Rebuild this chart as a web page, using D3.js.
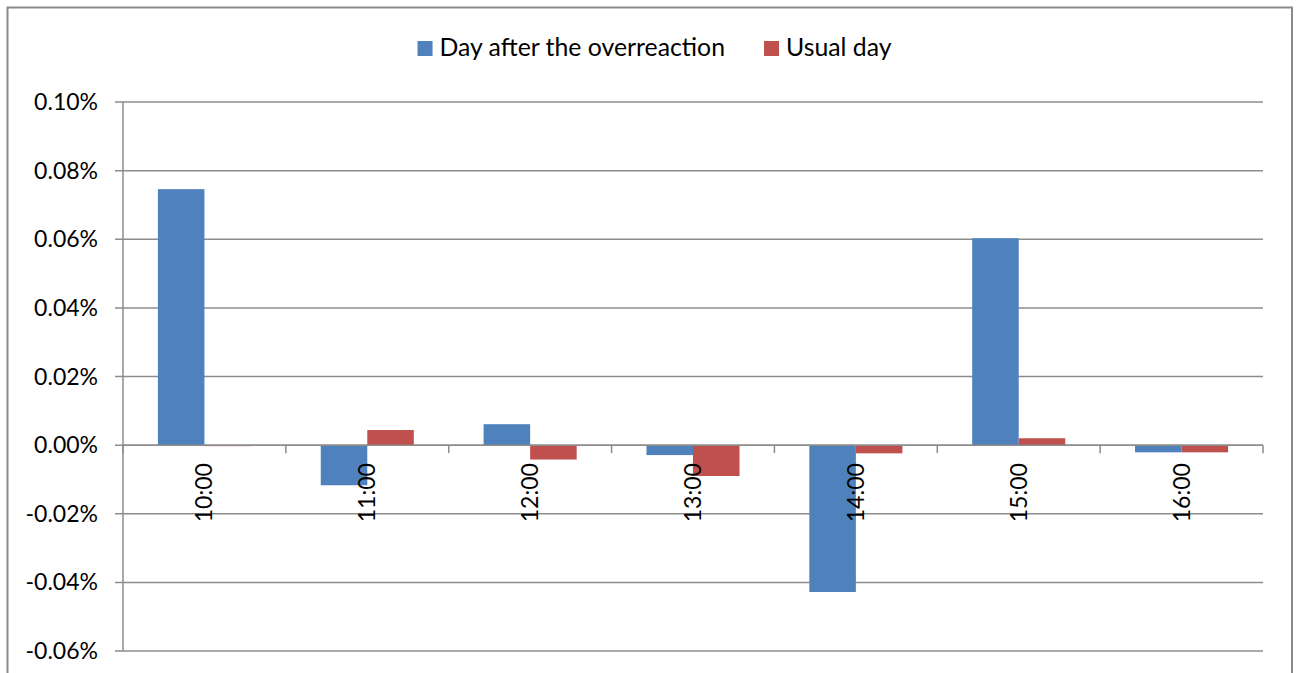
<!DOCTYPE html>
<html>
<head>
<meta charset="utf-8">
<script src="https://cdn.jsdelivr.net/npm/d3@7"></script>
<style>
  html, body { margin: 0; padding: 0; background: #fff; }
  svg { display: block; }
  text { font-family: Lato, "Open Sans", sans-serif; fill: #000; }
</style>
</head>
<body>
<svg id="chart" width="1298" height="673"></svg>
<script>
const categories = ["10:00", "11:00", "12:00", "13:00", "14:00", "15:00", "16:00"];
const seriesNames = ["Day after the overreaction", "Usual day"];
const dayAfter = [0.0746, -0.0117, 0.0061, -0.0029, -0.0428, 0.0603, -0.0021];
const usualDay = [-0.0003, 0.0044, -0.0042, -0.0090, -0.0024, 0.0020, -0.0021];
const yTicks = [-0.06, -0.04, -0.02, 0.00, 0.02, 0.04, 0.06, 0.08, 0.10];
const colors = ["#4F81BD", "#C0504D"];

const series = [dayAfter, usualDay];
const svg = d3.select("#chart");
const plot = { left: 123, right: 1263, top: 102, bottom: 651 };

// outer frame
svg.append("rect")
  .attr("x", 7.5).attr("y", 7.5)
  .attr("width", 1292 - 7.5).attr("height", 700)
  .attr("fill", "none").attr("stroke", "#8a8a8a").attr("stroke-width", 2);

const y = d3.scaleLinear().domain([-0.06, 0.10]).range([plot.bottom, plot.top]);
const x0 = d3.scaleBand().domain(categories).range([plot.left, plot.right]).padding(0);
const bw = x0.bandwidth();
const gap = bw * 1.5 / 3.5;
const x1 = d3.scaleBand().domain(d3.range(series.length)).range([gap / 2, bw - gap / 2]).padding(0);

// gridlines
svg.append("g").selectAll("line").data(yTicks).join("line")
  .attr("x1", plot.left - 8).attr("x2", plot.right)
  .attr("y1", d => y(d)).attr("y2", d => y(d))
  .attr("stroke", "#8c8c8c").attr("stroke-width", 1.5);

// y axis line
svg.append("line")
  .attr("x1", plot.left).attr("x2", plot.left)
  .attr("y1", plot.top).attr("y2", plot.bottom)
  .attr("stroke", "#8c8c8c").attr("stroke-width", 1.5);

// y labels
svg.append("g").selectAll("text").data(yTicks).join("text")
  .attr("x", 98).attr("y", d => y(d)).attr("dy", "0.35em")
  .attr("text-anchor", "end").attr("font-size", 23)
  .text(d => d3.format(".2f")(d).replace("\u2212", "-") + "%");

// bars
const data = [];
categories.forEach((c, i) => series.forEach((s, j) => data.push({ c, j, v: s[i] })));
svg.append("g").selectAll("rect").data(data).join("rect")
  .attr("x", d => x0(d.c) + x1(d.j))
  .attr("width", x1.bandwidth())
  .attr("y", d => Math.min(y(0), y(d.v)))
  .attr("height", d => Math.abs(y(d.v) - y(0)))
  .attr("fill", d => colors[d.j]);

// zero axis line + ticks
const zeroY = y(0);
svg.append("line")
  .attr("x1", plot.left).attr("x2", plot.right)
  .attr("y1", zeroY).attr("y2", zeroY)
  .attr("stroke", "#8c8c8c").attr("stroke-width", 1.5);
const bounds = categories.map(c => x0(c)).concat([plot.right]);
svg.append("g").selectAll("line").data(bounds).join("line")
  .attr("x1", d => d).attr("x2", d => d)
  .attr("y1", zeroY).attr("y2", zeroY + 8)
  .attr("stroke", "#8c8c8c").attr("stroke-width", 1.5);

// category labels (rotated)
svg.append("g").selectAll("text").data(categories).join("text")
  .attr("transform", c => `translate(${x0(c) + bw / 2},${zeroY + 18}) rotate(-90)`)
  .attr("dy", "0.35em").attr("text-anchor", "end").attr("font-size", 23)
  .text(c => c);

// legend
const lg = svg.append("g");
const items = lg.selectAll("g").data(seriesNames).join("g");
items.append("rect").attr("width", 15).attr("height", 15).attr("y", -15)
  .attr("fill", (d, i) => colors[i]);
items.append("text").attr("x", 22).attr("y", 0).attr("font-size", 24.8).text(d => d);
let cx = 0;
const offsets = [];
items.each(function () {
  offsets.push(cx);
  const w = this.querySelector("text").getComputedTextLength();
  cx += 22 + w + 39;
});
const total = cx - 39;
const startX = 654.5 - total / 2;
items.attr("transform", (d, i) => `translate(${startX + offsets[i]},56)`);
</script>
</body>
</html>
